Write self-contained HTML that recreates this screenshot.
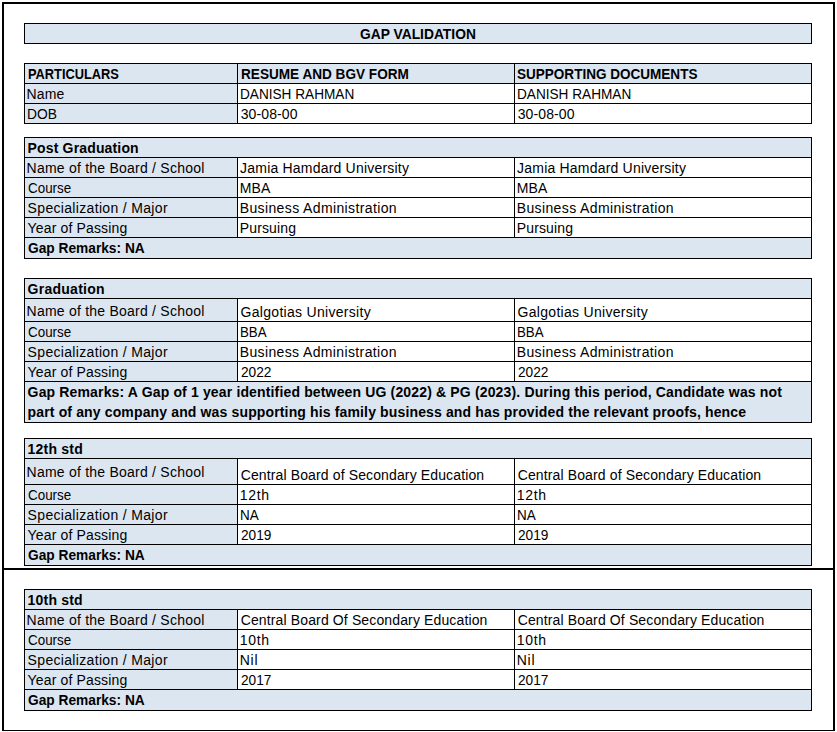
<!DOCTYPE html>
<html><head><meta charset="utf-8"><style>
html,body{margin:0;padding:0;background:#fff;}
body{width:837px;height:732px;position:relative;overflow:hidden;}
body>div{position:absolute;}
.k{background:#000;}
.t{font-family:"Liberation Sans",sans-serif;font-size:14.0px;line-height:20px;white-space:nowrap;transform-origin:0 0;color:#000;}
.b{font-weight:bold;}
.ob{border:2px solid #000;border-bottom-width:1px;box-sizing:border-box;}
</style></head><body>
<div class="ob" style="left:2px;top:2px;width:833px;height:729px"></div>
<div class="k" style="left:2px;top:568px;width:833px;height:2px"></div>
<div style="left:24px;top:23px;width:787px;height:20px;background:#dce6f1"></div>
<div style="left:24px;top:63px;width:213px;height:20px;background:#dce6f1"></div>
<div style="left:237px;top:63px;width:277px;height:20px;background:#dce6f1"></div>
<div style="left:514px;top:63px;width:297px;height:20px;background:#dce6f1"></div>
<div style="left:24px;top:83px;width:213px;height:20px;background:#dce6f1"></div>
<div style="left:237px;top:83px;width:277px;height:20px;background:#ffffff"></div>
<div style="left:514px;top:83px;width:297px;height:20px;background:#ffffff"></div>
<div style="left:24px;top:103px;width:213px;height:20px;background:#dce6f1"></div>
<div style="left:237px;top:103px;width:277px;height:20px;background:#ffffff"></div>
<div style="left:514px;top:103px;width:297px;height:20px;background:#ffffff"></div>
<div style="left:24px;top:137px;width:787px;height:20px;background:#dce6f1"></div>
<div style="left:24px;top:157px;width:213px;height:20px;background:#dce6f1"></div>
<div style="left:237px;top:157px;width:277px;height:20px;background:#ffffff"></div>
<div style="left:514px;top:157px;width:297px;height:20px;background:#ffffff"></div>
<div style="left:24px;top:177px;width:213px;height:20px;background:#dce6f1"></div>
<div style="left:237px;top:177px;width:277px;height:20px;background:#ffffff"></div>
<div style="left:514px;top:177px;width:297px;height:20px;background:#ffffff"></div>
<div style="left:24px;top:197px;width:213px;height:20px;background:#dce6f1"></div>
<div style="left:237px;top:197px;width:277px;height:20px;background:#ffffff"></div>
<div style="left:514px;top:197px;width:297px;height:20px;background:#ffffff"></div>
<div style="left:24px;top:217px;width:213px;height:20px;background:#dce6f1"></div>
<div style="left:237px;top:217px;width:277px;height:20px;background:#ffffff"></div>
<div style="left:514px;top:217px;width:297px;height:20px;background:#ffffff"></div>
<div style="left:24px;top:237px;width:787px;height:21px;background:#dce6f1"></div>
<div style="left:24px;top:278px;width:787px;height:20px;background:#dce6f1"></div>
<div style="left:24px;top:298px;width:213px;height:23px;background:#dce6f1"></div>
<div style="left:237px;top:298px;width:277px;height:23px;background:#ffffff"></div>
<div style="left:514px;top:298px;width:297px;height:23px;background:#ffffff"></div>
<div style="left:24px;top:321px;width:213px;height:20px;background:#dce6f1"></div>
<div style="left:237px;top:321px;width:277px;height:20px;background:#ffffff"></div>
<div style="left:514px;top:321px;width:297px;height:20px;background:#ffffff"></div>
<div style="left:24px;top:341px;width:213px;height:20px;background:#dce6f1"></div>
<div style="left:237px;top:341px;width:277px;height:20px;background:#ffffff"></div>
<div style="left:514px;top:341px;width:297px;height:20px;background:#ffffff"></div>
<div style="left:24px;top:361px;width:213px;height:20px;background:#dce6f1"></div>
<div style="left:237px;top:361px;width:277px;height:20px;background:#ffffff"></div>
<div style="left:514px;top:361px;width:297px;height:20px;background:#ffffff"></div>
<div style="left:24px;top:381px;width:787px;height:41px;background:#dce6f1"></div>
<div style="left:24px;top:438px;width:787px;height:20px;background:#dce6f1"></div>
<div style="left:24px;top:458px;width:213px;height:26px;background:#dce6f1"></div>
<div style="left:237px;top:458px;width:277px;height:26px;background:#ffffff"></div>
<div style="left:514px;top:458px;width:297px;height:26px;background:#ffffff"></div>
<div style="left:24px;top:484px;width:213px;height:20px;background:#dce6f1"></div>
<div style="left:237px;top:484px;width:277px;height:20px;background:#ffffff"></div>
<div style="left:514px;top:484px;width:297px;height:20px;background:#ffffff"></div>
<div style="left:24px;top:504px;width:213px;height:20px;background:#dce6f1"></div>
<div style="left:237px;top:504px;width:277px;height:20px;background:#ffffff"></div>
<div style="left:514px;top:504px;width:297px;height:20px;background:#ffffff"></div>
<div style="left:24px;top:524px;width:213px;height:20px;background:#dce6f1"></div>
<div style="left:237px;top:524px;width:277px;height:20px;background:#ffffff"></div>
<div style="left:514px;top:524px;width:297px;height:20px;background:#ffffff"></div>
<div style="left:24px;top:544px;width:787px;height:21px;background:#dce6f1"></div>
<div style="left:24px;top:589px;width:787px;height:20px;background:#dce6f1"></div>
<div style="left:24px;top:609px;width:213px;height:20px;background:#dce6f1"></div>
<div style="left:237px;top:609px;width:277px;height:20px;background:#ffffff"></div>
<div style="left:514px;top:609px;width:297px;height:20px;background:#ffffff"></div>
<div style="left:24px;top:629px;width:213px;height:20px;background:#dce6f1"></div>
<div style="left:237px;top:629px;width:277px;height:20px;background:#ffffff"></div>
<div style="left:514px;top:629px;width:297px;height:20px;background:#ffffff"></div>
<div style="left:24px;top:649px;width:213px;height:20px;background:#dce6f1"></div>
<div style="left:237px;top:649px;width:277px;height:20px;background:#ffffff"></div>
<div style="left:514px;top:649px;width:297px;height:20px;background:#ffffff"></div>
<div style="left:24px;top:669px;width:213px;height:20px;background:#dce6f1"></div>
<div style="left:237px;top:669px;width:277px;height:20px;background:#ffffff"></div>
<div style="left:514px;top:669px;width:297px;height:20px;background:#ffffff"></div>
<div style="left:24px;top:689px;width:787px;height:21px;background:#dce6f1"></div>
<div class="k" style="left:24px;top:23px;width:788px;height:1px"></div>
<div class="k" style="left:24px;top:43px;width:788px;height:1px"></div>
<div class="k" style="left:24px;top:63px;width:788px;height:1px"></div>
<div class="k" style="left:24px;top:83px;width:788px;height:1px"></div>
<div class="k" style="left:24px;top:103px;width:788px;height:1px"></div>
<div class="k" style="left:24px;top:123px;width:788px;height:1px"></div>
<div class="k" style="left:24px;top:137px;width:788px;height:1px"></div>
<div class="k" style="left:24px;top:157px;width:788px;height:1px"></div>
<div class="k" style="left:24px;top:177px;width:788px;height:1px"></div>
<div class="k" style="left:24px;top:197px;width:788px;height:1px"></div>
<div class="k" style="left:24px;top:217px;width:788px;height:1px"></div>
<div class="k" style="left:24px;top:237px;width:788px;height:1px"></div>
<div class="k" style="left:24px;top:258px;width:788px;height:1px"></div>
<div class="k" style="left:24px;top:278px;width:788px;height:1px"></div>
<div class="k" style="left:24px;top:298px;width:788px;height:1px"></div>
<div class="k" style="left:24px;top:321px;width:788px;height:1px"></div>
<div class="k" style="left:24px;top:341px;width:788px;height:1px"></div>
<div class="k" style="left:24px;top:361px;width:788px;height:1px"></div>
<div class="k" style="left:24px;top:381px;width:788px;height:1px"></div>
<div class="k" style="left:24px;top:422px;width:788px;height:1px"></div>
<div class="k" style="left:24px;top:438px;width:788px;height:1px"></div>
<div class="k" style="left:24px;top:458px;width:788px;height:1px"></div>
<div class="k" style="left:24px;top:484px;width:788px;height:1px"></div>
<div class="k" style="left:24px;top:504px;width:788px;height:1px"></div>
<div class="k" style="left:24px;top:524px;width:788px;height:1px"></div>
<div class="k" style="left:24px;top:544px;width:788px;height:1px"></div>
<div class="k" style="left:24px;top:565px;width:788px;height:1px"></div>
<div class="k" style="left:24px;top:589px;width:788px;height:1px"></div>
<div class="k" style="left:24px;top:609px;width:788px;height:1px"></div>
<div class="k" style="left:24px;top:629px;width:788px;height:1px"></div>
<div class="k" style="left:24px;top:649px;width:788px;height:1px"></div>
<div class="k" style="left:24px;top:669px;width:788px;height:1px"></div>
<div class="k" style="left:24px;top:689px;width:788px;height:1px"></div>
<div class="k" style="left:24px;top:710px;width:788px;height:1px"></div>
<div class="k" style="left:24px;top:23px;width:1px;height:21px"></div>
<div class="k" style="left:811px;top:23px;width:1px;height:21px"></div>
<div class="k" style="left:237px;top:63px;width:1px;height:21px"></div>
<div class="k" style="left:514px;top:63px;width:1px;height:21px"></div>
<div class="k" style="left:237px;top:83px;width:1px;height:21px"></div>
<div class="k" style="left:514px;top:83px;width:1px;height:21px"></div>
<div class="k" style="left:237px;top:103px;width:1px;height:21px"></div>
<div class="k" style="left:514px;top:103px;width:1px;height:21px"></div>
<div class="k" style="left:24px;top:63px;width:1px;height:61px"></div>
<div class="k" style="left:811px;top:63px;width:1px;height:61px"></div>
<div class="k" style="left:237px;top:157px;width:1px;height:21px"></div>
<div class="k" style="left:514px;top:157px;width:1px;height:21px"></div>
<div class="k" style="left:237px;top:177px;width:1px;height:21px"></div>
<div class="k" style="left:514px;top:177px;width:1px;height:21px"></div>
<div class="k" style="left:237px;top:197px;width:1px;height:21px"></div>
<div class="k" style="left:514px;top:197px;width:1px;height:21px"></div>
<div class="k" style="left:237px;top:217px;width:1px;height:21px"></div>
<div class="k" style="left:514px;top:217px;width:1px;height:21px"></div>
<div class="k" style="left:24px;top:137px;width:1px;height:122px"></div>
<div class="k" style="left:811px;top:137px;width:1px;height:122px"></div>
<div class="k" style="left:237px;top:298px;width:1px;height:24px"></div>
<div class="k" style="left:514px;top:298px;width:1px;height:24px"></div>
<div class="k" style="left:237px;top:321px;width:1px;height:21px"></div>
<div class="k" style="left:514px;top:321px;width:1px;height:21px"></div>
<div class="k" style="left:237px;top:341px;width:1px;height:21px"></div>
<div class="k" style="left:514px;top:341px;width:1px;height:21px"></div>
<div class="k" style="left:237px;top:361px;width:1px;height:21px"></div>
<div class="k" style="left:514px;top:361px;width:1px;height:21px"></div>
<div class="k" style="left:24px;top:278px;width:1px;height:145px"></div>
<div class="k" style="left:811px;top:278px;width:1px;height:145px"></div>
<div class="k" style="left:237px;top:458px;width:1px;height:27px"></div>
<div class="k" style="left:514px;top:458px;width:1px;height:27px"></div>
<div class="k" style="left:237px;top:484px;width:1px;height:21px"></div>
<div class="k" style="left:514px;top:484px;width:1px;height:21px"></div>
<div class="k" style="left:237px;top:504px;width:1px;height:21px"></div>
<div class="k" style="left:514px;top:504px;width:1px;height:21px"></div>
<div class="k" style="left:237px;top:524px;width:1px;height:21px"></div>
<div class="k" style="left:514px;top:524px;width:1px;height:21px"></div>
<div class="k" style="left:24px;top:438px;width:1px;height:128px"></div>
<div class="k" style="left:811px;top:438px;width:1px;height:128px"></div>
<div class="k" style="left:237px;top:609px;width:1px;height:21px"></div>
<div class="k" style="left:514px;top:609px;width:1px;height:21px"></div>
<div class="k" style="left:237px;top:629px;width:1px;height:21px"></div>
<div class="k" style="left:514px;top:629px;width:1px;height:21px"></div>
<div class="k" style="left:237px;top:649px;width:1px;height:21px"></div>
<div class="k" style="left:514px;top:649px;width:1px;height:21px"></div>
<div class="k" style="left:237px;top:669px;width:1px;height:21px"></div>
<div class="k" style="left:514px;top:669px;width:1px;height:21px"></div>
<div class="k" style="left:24px;top:589px;width:1px;height:122px"></div>
<div class="k" style="left:811px;top:589px;width:1px;height:122px"></div>
<div class="t b" style="left:360.10px;top:24.15px;transform:scaleX(0.9865)">GAP VALIDATION</div>
<div class="t b" style="left:27.60px;top:64.15px;transform:scaleX(0.9156)">PARTICULARS</div>
<div class="t b" style="left:240.90px;top:64.15px;transform:scaleX(0.9706)">RESUME AND BGV FORM</div>
<div class="t b" style="left:517.20px;top:64.15px;transform:scaleX(0.9665)">SUPPORTING DOCUMENTS</div>
<div class="t" style="left:26.60px;top:84.15px;letter-spacing:0.080px">Name</div>
<div class="t" style="left:239.73px;top:84.15px;transform:scaleX(0.9727)">DANISH RAHMAN</div>
<div class="t" style="left:516.73px;top:84.15px;transform:scaleX(0.9727)">DANISH RAHMAN</div>
<div class="t" style="left:26.61px;top:104.15px;transform:scaleX(0.9862)">DOB</div>
<div class="t" style="left:240.70px;top:104.15px;letter-spacing:0.106px">30-08-00</div>
<div class="t" style="left:517.70px;top:104.15px;letter-spacing:0.106px">30-08-00</div>
<div class="t b" style="left:27.60px;top:138.15px;letter-spacing:0.154px">Post Graduation</div>
<div class="t" style="left:26.60px;top:158.15px;letter-spacing:0.229px">Name of the Board / School</div>
<div class="t" style="left:240.10px;top:158.15px;letter-spacing:0.202px">Jamia Hamdard University</div>
<div class="t" style="left:517.10px;top:158.15px;letter-spacing:0.202px">Jamia Hamdard University</div>
<div class="t" style="left:27.60px;top:178.15px;transform:scaleX(0.9571)">Course</div>
<div class="t" style="left:239.70px;top:178.15px;letter-spacing:0.150px">MBA</div>
<div class="t" style="left:516.70px;top:178.15px;letter-spacing:0.150px">MBA</div>
<div class="t" style="left:27.60px;top:198.15px;letter-spacing:0.329px">Specialization / Major</div>
<div class="t" style="left:239.70px;top:198.15px;letter-spacing:0.377px">Business Administration</div>
<div class="t" style="left:516.70px;top:198.15px;letter-spacing:0.377px">Business Administration</div>
<div class="t" style="left:27.60px;top:218.15px;letter-spacing:0.146px">Year of Passing</div>
<div class="t" style="left:239.70px;top:218.15px;letter-spacing:0.162px">Pursuing</div>
<div class="t" style="left:516.70px;top:218.15px;letter-spacing:0.162px">Pursuing</div>
<div class="t b" style="left:27.60px;top:238.15px;transform:scaleX(0.9804)">Gap Remarks: NA</div>
<div class="t b" style="left:27.60px;top:279.15px;letter-spacing:0.254px">Graduation</div>
<div class="t" style="left:26.60px;top:301.15px;letter-spacing:0.229px">Name of the Board / School</div>
<div class="t" style="left:240.60px;top:302.15px;letter-spacing:0.295px">Galgotias University</div>
<div class="t" style="left:517.60px;top:302.15px;letter-spacing:0.295px">Galgotias University</div>
<div class="t" style="left:27.60px;top:322.15px;transform:scaleX(0.9571)">Course</div>
<div class="t" style="left:239.75px;top:322.15px;transform:scaleX(0.9503)">BBA</div>
<div class="t" style="left:516.75px;top:322.15px;transform:scaleX(0.9503)">BBA</div>
<div class="t" style="left:27.60px;top:342.15px;letter-spacing:0.329px">Specialization / Major</div>
<div class="t" style="left:239.70px;top:342.15px;letter-spacing:0.372px">Business Administration</div>
<div class="t" style="left:516.70px;top:342.15px;letter-spacing:0.372px">Business Administration</div>
<div class="t" style="left:27.60px;top:362.15px;letter-spacing:0.146px">Year of Passing</div>
<div class="t" style="left:240.70px;top:362.15px;transform:scaleX(0.9790)">2022</div>
<div class="t" style="left:517.70px;top:362.15px;transform:scaleX(0.9790)">2022</div>
<div class="t b" style="left:27.60px;top:382.15px;letter-spacing:0.152px">Gap Remarks: A Gap of 1 year identified between UG (2022) &amp; PG (2023). During this period, Candidate was not</div>
<div class="t b" style="left:27.60px;top:402.15px;letter-spacing:0.142px">part of any company and was supporting his family business and has provided the relevant proofs, hence</div>
<div class="t b" style="left:27.60px;top:439.15px;letter-spacing:0.211px">12th std</div>
<div class="t" style="left:26.60px;top:462.15px;letter-spacing:0.229px">Name of the Board / School</div>
<div class="t" style="left:240.70px;top:465.15px;letter-spacing:0.128px">Central Board of Secondary Education</div>
<div class="t" style="left:517.70px;top:465.15px;letter-spacing:0.128px">Central Board of Secondary Education</div>
<div class="t" style="left:27.60px;top:485.15px;transform:scaleX(0.9571)">Course</div>
<div class="t" style="left:239.70px;top:485.15px;letter-spacing:0.713px">12th</div>
<div class="t" style="left:516.70px;top:485.15px;letter-spacing:0.713px">12th</div>
<div class="t" style="left:27.60px;top:505.15px;letter-spacing:0.329px">Specialization / Major</div>
<div class="t" style="left:239.74px;top:505.15px;transform:scaleX(0.9628)">NA</div>
<div class="t" style="left:516.74px;top:505.15px;transform:scaleX(0.9628)">NA</div>
<div class="t" style="left:27.60px;top:525.15px;letter-spacing:0.146px">Year of Passing</div>
<div class="t" style="left:240.70px;top:525.15px;transform:scaleX(0.9758)">2019</div>
<div class="t" style="left:517.70px;top:525.15px;transform:scaleX(0.9758)">2019</div>
<div class="t b" style="left:27.60px;top:545.15px;transform:scaleX(0.9804)">Gap Remarks: NA</div>
<div class="t b" style="left:27.60px;top:590.15px;letter-spacing:0.197px">10th std</div>
<div class="t" style="left:26.60px;top:610.15px;letter-spacing:0.229px">Name of the Board / School</div>
<div class="t" style="left:240.70px;top:610.15px;letter-spacing:0.133px">Central Board Of Secondary Education</div>
<div class="t" style="left:517.70px;top:610.15px;letter-spacing:0.133px">Central Board Of Secondary Education</div>
<div class="t" style="left:27.60px;top:630.15px;transform:scaleX(0.9571)">Course</div>
<div class="t" style="left:239.70px;top:630.15px;letter-spacing:0.713px">10th</div>
<div class="t" style="left:516.70px;top:630.15px;letter-spacing:0.713px">10th</div>
<div class="t" style="left:27.60px;top:650.15px;letter-spacing:0.329px">Specialization / Major</div>
<div class="t" style="left:239.70px;top:650.15px;letter-spacing:0.740px">Nil</div>
<div class="t" style="left:516.70px;top:650.15px;letter-spacing:0.740px">Nil</div>
<div class="t" style="left:27.60px;top:670.15px;letter-spacing:0.146px">Year of Passing</div>
<div class="t" style="left:240.70px;top:670.15px;transform:scaleX(0.9758)">2017</div>
<div class="t" style="left:517.70px;top:670.15px;transform:scaleX(0.9758)">2017</div>
<div class="t b" style="left:27.60px;top:690.15px;transform:scaleX(0.9804)">Gap Remarks: NA</div>
</body></html>
